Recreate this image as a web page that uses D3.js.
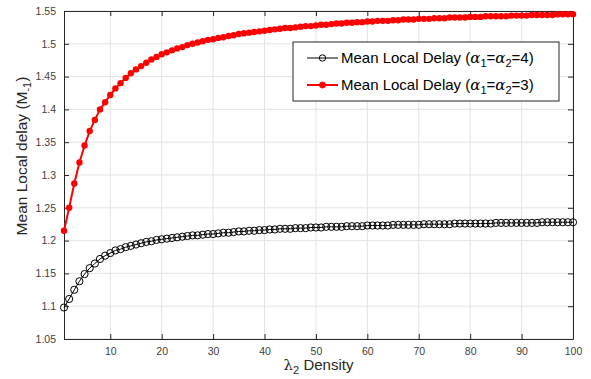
<!DOCTYPE html>
<html>
<head>
<meta charset="utf-8">
<script src="https://cdn.jsdelivr.net/npm/d3@7"></script>
<style>
body { margin: 0; background: #fff; }
svg { font-family: "Liberation Sans", Arial, sans-serif; }
</style>
</head>
<body>
<div id="frame"></div>
<script>
// data, x = 1..100
const density = d3.range(1, 101);
const delayAlpha4 = [
  1.098, 1.111, 1.125, 1.138, 1.149, 1.158, 1.165, 1.172, 1.177, 1.181,
  1.185, 1.187, 1.190, 1.192, 1.194, 1.196, 1.198, 1.199, 1.201, 1.202,
  1.203, 1.204, 1.205, 1.206, 1.207, 1.208, 1.208, 1.209, 1.210, 1.210,
  1.211, 1.212, 1.212, 1.213, 1.214, 1.214, 1.215, 1.215, 1.216, 1.216,
  1.217, 1.217, 1.218, 1.218, 1.218, 1.219, 1.219, 1.219, 1.220, 1.220,
  1.220, 1.221, 1.221, 1.221, 1.221, 1.222, 1.222, 1.222, 1.222, 1.223,
  1.223, 1.223, 1.223, 1.223, 1.224, 1.224, 1.224, 1.224, 1.224, 1.224,
  1.225, 1.225, 1.225, 1.225, 1.225, 1.225, 1.226, 1.226, 1.226, 1.226,
  1.226, 1.226, 1.226, 1.226, 1.227, 1.227, 1.227, 1.227, 1.227, 1.227,
  1.227, 1.227, 1.227, 1.228, 1.228, 1.228, 1.228, 1.228, 1.228, 1.228
];
const delayAlpha3 = [
  1.215, 1.250, 1.287, 1.319, 1.345, 1.367, 1.384, 1.400, 1.411, 1.422,
  1.432, 1.440, 1.448, 1.455, 1.461, 1.466, 1.471, 1.476, 1.480, 1.484,
  1.487, 1.490, 1.493, 1.495, 1.498, 1.500, 1.502, 1.504, 1.506, 1.507,
  1.509, 1.510, 1.512, 1.513, 1.515, 1.516, 1.517, 1.518, 1.519, 1.520,
  1.521, 1.522, 1.523, 1.524, 1.524, 1.525, 1.526, 1.527, 1.527, 1.528,
  1.529, 1.529, 1.530, 1.531, 1.531, 1.532, 1.532, 1.533, 1.533, 1.534,
  1.534, 1.535, 1.535, 1.535, 1.536, 1.536, 1.537, 1.537, 1.537, 1.538,
  1.538, 1.538, 1.539, 1.539, 1.539, 1.540, 1.540, 1.540, 1.540, 1.541,
  1.541, 1.541, 1.542, 1.542, 1.542, 1.542, 1.542, 1.543, 1.543, 1.543,
  1.543, 1.544, 1.544, 1.544, 1.544, 1.544, 1.545, 1.545, 1.545, 1.545
];
const xTicks = [10, 20, 30, 40, 50, 60, 70, 80, 90, 100];
const yTicks = [1.05, 1.1, 1.15, 1.2, 1.25, 1.3, 1.35, 1.4, 1.45, 1.5, 1.55];

const width = 591, height = 379;
const plotLeft = 64, plotRight = 573, plotTop = 11, plotBottom = 339;
const axisColor = "#262626";

let svg = d3.select("#frame").append("svg")
    .attr("width", width)
    .attr("height", height);

let x = d3.scaleLinear().domain([1, 100]).range([plotLeft, plotRight]);
let y = d3.scaleLinear().domain([1.05, 1.55]).range([plotBottom, plotTop]);

// grid
let grid = svg.append("g");
xTicks.forEach(t => {
  grid.append("line")
      .attr("x1", x(t)).attr("x2", x(t))
      .attr("y1", plotTop).attr("y2", plotBottom)
      .attr("stroke", "#e3e3e3").attr("stroke-width", 1);
});
yTicks.forEach(t => {
  grid.append("line")
      .attr("x1", plotLeft).attr("x2", plotRight)
      .attr("y1", y(t)).attr("y2", y(t))
      .attr("stroke", "#e3e3e3").attr("stroke-width", 1);
});

// axes, ticks pointing inward on all four sides
let fmtY = d => String(+d.toFixed(2));
let axB = svg.append("g").attr("transform", "translate(0," + plotBottom + ")")
    .call(d3.axisBottom(x).tickValues(xTicks).tickSizeInner(-5).tickSizeOuter(0).tickPadding(9));
let axT = svg.append("g").attr("transform", "translate(0," + plotTop + ")")
    .call(d3.axisTop(x).tickValues(xTicks).tickSizeInner(-5).tickSizeOuter(0).tickFormat(""));
let axL = svg.append("g").attr("transform", "translate(" + plotLeft + ",0)")
    .call(d3.axisLeft(y).tickValues(yTicks).tickSizeInner(-5).tickSizeOuter(0).tickPadding(8).tickFormat(fmtY));
let axR = svg.append("g").attr("transform", "translate(" + plotRight + ",0)")
    .call(d3.axisRight(y).tickValues(yTicks).tickSizeInner(-5).tickSizeOuter(0).tickFormat(""));

[axB, axT, axL, axR].forEach(a => {
  a.selectAll("path,line").attr("stroke", axisColor).attr("stroke-width", 1);
  a.selectAll("text").attr("fill", "#404040").style("font-size", "10.5px")
      .style("font-family", "'Liberation Sans', Arial, sans-serif");
});

// series
let pts4 = density.map((d, i) => [d, delayAlpha4[i]]);
let pts3 = density.map((d, i) => [d, delayAlpha3[i]]);
let line = d3.line().x(d => x(d[0])).y(d => y(d[1]));

svg.append("path").datum(pts4)
    .attr("d", line).attr("fill", "none")
    .attr("stroke", "#000").attr("stroke-width", 1);
svg.append("g").selectAll("circle").data(pts4).enter().append("circle")
    .attr("cx", d => x(d[0])).attr("cy", d => y(d[1])).attr("r", 3.6)
    .attr("fill", "none").attr("stroke", "#000").attr("stroke-width", 1);

svg.append("path").datum(pts3)
    .attr("d", line).attr("fill", "none")
    .attr("stroke", "#ff0000").attr("stroke-width", 2);
svg.append("g").selectAll("circle").data(pts3).enter().append("circle")
    .attr("cx", d => x(d[0])).attr("cy", d => y(d[1])).attr("r", 3.2)
    .attr("fill", "#ff0000");

// axis labels
svg.append("text")
    .attr("x", (plotLeft + plotRight) / 2).attr("y", 370)
    .attr("text-anchor", "middle")
    .style("font-size", "15px").attr("fill", "#262626")
    .html("<tspan font-family='DejaVu Serif'>λ</tspan><tspan dy='4' font-size='11px'>2</tspan><tspan dy='-4'> Density</tspan>");

svg.append("text")
    .attr("transform", "translate(27,156) rotate(-90)")
    .attr("text-anchor", "middle")
    .style("font-size", "15.5px").attr("fill", "#262626")
    .html("Mean Local delay (M<tspan dy='4' font-size='11px'>-1</tspan><tspan dy='-4'>)</tspan>");

// legend
let legend = svg.append("g").attr("transform", "translate(293,42)");
legend.append("rect")
    .attr("width", 266).attr("height", 59)
    .attr("fill", "#fff").attr("stroke", "#262626").attr("stroke-width", 1);

let entries = [
  { label: "4", color: "#000", width: 1, fill: "none", r: 3.2 },
  { label: "3", color: "#ff0000", width: 2, fill: "#ff0000", r: 3 }
];
entries.forEach((e, i) => {
  let yy = 16 + i * 27;
  legend.append("line")
      .attr("x1", 14).attr("x2", 45).attr("y1", yy).attr("y2", yy)
      .attr("stroke", e.color).attr("stroke-width", e.width);
  legend.append("circle")
      .attr("cx", 29.5).attr("cy", yy).attr("r", e.r)
      .attr("fill", e.fill).attr("stroke", e.color).attr("stroke-width", 1);
  legend.append("text")
      .attr("x", 48).attr("y", yy + 5)
      .style("font-size", "15px").attr("fill", "#000")
      .html("Mean Local Delay (<tspan font-family='DejaVu Serif' font-style='italic'>α</tspan><tspan dy='4' font-size='11px'>1</tspan><tspan dy='-4'>=</tspan><tspan font-family='DejaVu Serif' font-style='italic'>α</tspan><tspan dy='4' font-size='11px'>2</tspan><tspan dy='-4'>=" + e.label + ")</tspan>");
});
</script>
</body>
</html>
